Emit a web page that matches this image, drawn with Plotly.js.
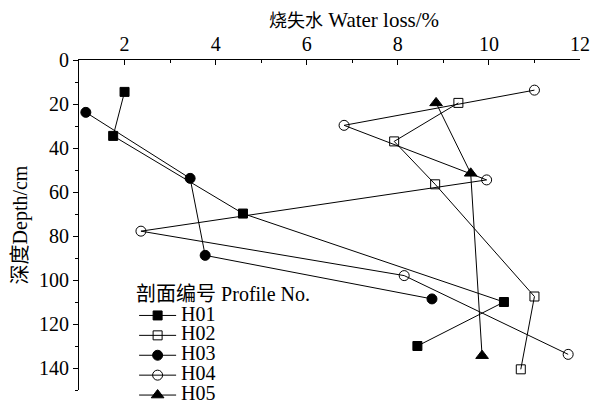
<!DOCTYPE html>
<html>
<head>
<meta charset="utf-8">
<script src="https://cdn.plot.ly/plotly-3.0.1.min.js"></script>
<style>html,body{margin:0;padding:0;background:#fff;}#chart{width:595px;height:406px;}</style>
</head>
<body>
<div id="chart"></div>
<script>
const profileNames = ["H01", "H02", "H03", "H04", "H05"];
const h01Loss = [2.0, 1.75, 4.6, 10.33, 8.43];
const h01Depth = [14.5, 34.5, 69.8, 110, 130];
const h02Loss = [9.33, 7.92, 8.82, 11.0, 10.7];
const h02Depth = [19.5, 37, 56.5, 107.5, 140.6];
const h03Loss = [1.15, 3.44, 3.77, 8.75];
const h03Depth = [23.8, 53.8, 88.8, 108.6];
const h04Loss = [11.0, 6.82, 9.95, 2.36, 8.14, 11.74];
const h04Depth = [13.7, 29.7, 54.5, 77.8, 98, 133.8];
const h05Loss = [8.84, 9.6, 9.85];
const h05Depth = [19.5, 51.5, 134.4];

const FONT = "Liberation Serif, Noto Sans CJK SC, serif";
const TICKFONT = "Liberation Serif";
const series = [
  {x: h01Loss, y: h01Depth, sym: "square", size: 9},
  {x: h02Loss, y: h02Depth, sym: "square-open", size: 9},
  {x: h03Loss, y: h03Depth, sym: "circle", size: 10},
  {x: h04Loss, y: h04Depth, sym: "circle-open", size: 10},
  {x: h05Loss, y: h05Depth, sym: "triangle-up", size: 11}
];
const traces = series.map((s, i) => ({
  type: "scatter", mode: "lines+markers",
  name: '<span style="font-size:20px">' + profileNames[i] + '</span>',
  x: s.x, y: s.y,
  line: {color: "#000", width: 1},
  marker: {symbol: s.sym, size: s.size, color: "#000", line: {color: "#000", width: 1}}
}));

const layout = {
  width: 595, height: 406,
  margin: {l: 79, r: 15, t: 60, b: 16, autoexpand: false},
  paper_bgcolor: "#fff", plot_bgcolor: "#fff",
  font: {family: FONT, size: 20, color: "#000"},
  showlegend: true,
  legend: {
    x: 0.11, y: 0.35, xanchor: "left", yanchor: "top",
    bgcolor: "rgba(0,0,0,0)",
    font: {family: FONT, size: 13, color: "#000"},
    title: {text: "剖面编号 Profile No.", font: {family: FONT, size: 20, color: "#000"}},
    tracegroupgap: 0, itemwidth: 37
  },
  xaxis: {
    side: "top", range: [1, 12], dtick: 2, tick0: 0,
    showline: true, linecolor: "#000", linewidth: 1,
    ticks: "inside", ticklen: 5, tickcolor: "#000",
    minor: {dtick: 1, tick0: 0, ticks: "inside", ticklen: 3, tickcolor: "#000"},
    showgrid: false, zeroline: false,
    tickfont: {family: TICKFONT, size: 20, color: "#000"}
  },
  yaxis: {
    range: [150, 0], dtick: 20, tick0: 0,
    showline: true, linecolor: "#000", linewidth: 1,
    ticks: "outside", ticklen: 5, tickcolor: "#000",
    minor: {dtick: 10, tick0: 0, ticks: "outside", ticklen: 3, tickcolor: "#000"},
    showgrid: false, zeroline: false,
    tickfont: {family: TICKFONT, size: 20, color: "#000"},
    title: {text: "深度Depth/cm", font: {family: FONT, size: 20, color: "#000"}, standoff: 6}
  },
  annotations: [{
    text: '<span style="font-size:18px">烧失水</span> Water loss/%', xref: "paper", yref: "paper",
    x: (354 - 79) / 501, y: 1, yshift: 40, xanchor: "center", yanchor: "middle",
    showarrow: false, font: {family: FONT, size: 21, color: "#000"}
  }]
};
Plotly.newPlot("chart", traces, layout, {displayModeBar: false, staticPlot: true});
</script>
</body>
</html>
